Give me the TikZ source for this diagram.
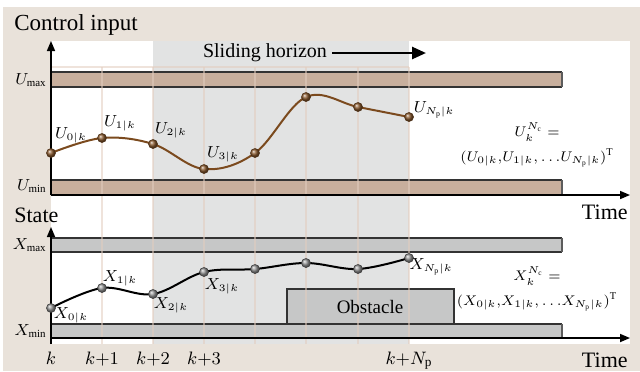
\documentclass[tikz,border=0pt]{standalone}
\usepackage{fontspec}
\setmainfont{Liberation Serif}
\usetikzlibrary{arrows.meta}
\definecolor{bgbeige}{HTML}{E9E2DA}
\definecolor{horgray}{HTML}{E2E3E3}
\definecolor{gridtan}{HTML}{E3CDBE}
\definecolor{tanbar}{HTML}{C8AF9D}
\definecolor{graybar}{HTML}{C6C7C7}
\definecolor{edgedark}{HTML}{333333}
\definecolor{ucurve}{HTML}{7B4A1E}
\definecolor{uball}{HTML}{8A5A2E}
\tikzset{
  gridline/.style={gridtan, line width=0.6pt, opacity=0.55},
  baredge/.style={edgedark, line width=0.9pt},
  axisline/.style={black, line width=0.8pt, -{Triangle[length=5pt,width=4pt]}},
  ubullet/.style={circle, inner sep=0pt, minimum size=4.6pt, ball color=uball, draw=ucurve!60!black, line width=0.2pt},
  xbullet/.style={circle, inner sep=0pt, minimum size=4.6pt, ball color=gray!85, draw=gray!40!black, line width=0.2pt},
  lbl/.style={inner sep=1pt, font=\fontsize{7.8}{9}\selectfont},
  vec/.style={inner sep=0pt, align=center, font=\fontsize{7.4}{12.5}\selectfont},
  ttl/.style={inner sep=0pt, font=\fontsize{11}{12}\selectfont},
  tick/.style={inner sep=0pt, font=\fontsize{9.5}{10}\selectfont}
}
\begin{document}
\begin{tikzpicture}[x=0.5pt,y=-0.5pt]
\useasboundingbox (0,0) rectangle (640,371);
\fill[white] (0,0) rectangle (640,371);
\fill[bgbeige] (3,7) rectangle (640,371);
\fill[white] (51,41) rectangle (630,344);
\fill[horgray] (153,41) rectangle (409,344);

% bars
\fill[tanbar] (51,72) rectangle (562,87);
\fill[tanbar] (51,180) rectangle (562,195);
\fill[graybar] (51,238) rectangle (562,252);
\fill[graybar] (51,324) rectangle (562,338);
\fill[graybar] (287,289) rectangle (454,324);

% bar edges
\foreach \a/\b in {72/87,180/195,238/252,324/338}{
  \draw[baredge] (51,\a) -- (562,\a);
  \draw[baredge] (51,\b) -- (562,\b);
  \draw[edgedark!80, line width=0.6pt] (562,\a) -- (562,\b);
}
\draw[edgedark, line width=0.6pt] (287,324) -- (287,289) -- (454,289) -- (454,324);

% grid
\draw[gridline] (51,67) -- (409,67);
\foreach \x in {102,153,204,255,306,358,409}
  \draw[gridline] (\x,67) -- (\x,344);

% axes
\coordinate (o1) at (51,195);
\coordinate (t1) at (51,41);
\coordinate (r1) at (630,195);
\coordinate (o2) at (51,344);
\coordinate (t2) at (51,227);
\coordinate (r2) at (630,338);
\draw[axisline] (o1) -- (t1);
\draw[axisline] (51,195) -- (r1);
\draw[axisline] (o2) -- (t2);
\draw[axisline] (51,338) -- (r2);

% titles
\node[ttl, anchor=base west, font=\fontsize{11.5}{12}\selectfont] (ci) at (14,30) {Control input};
\node[ttl, anchor=base west] (st) at (14,222) {State};
\node[ttl, anchor=base east] (time1) at (628,219) {Time};
\node[ttl, anchor=base east] (time2) at (628,367) {Time};
\node[ttl, anchor=base, font=\fontsize{10}{11}\selectfont] (sh) at (265,57) {Sliding horizon};
\coordinate (sha) at (332,53);
\coordinate (shb) at (426,53);
\draw[line width=1.3pt, -{Triangle[length=7pt,width=6pt]}] (sha) -- (shb);

% axis labels
\node[lbl, anchor=east] (umax) at (49,80) {$U_{\mathrm{max}}$};
\node[lbl, anchor=east] (umin) at (49,186) {$U_{\mathrm{min}}$};
\node[lbl, anchor=east] (xmax) at (49,245) {$X_{\mathrm{max}}$};
\node[lbl, anchor=east] (xmin) at (49,331) {$X_{\mathrm{min}}$};

% time ticks
\node[tick, anchor=base] (k0) at (51,364) {$k$};
\node[tick, anchor=base] (k1) at (102,364) {$k{+}1$};
\node[tick, anchor=base] (k2) at (153,364) {$k{+}2$};
\node[tick, anchor=base] (k3) at (204,364) {$k{+}3$};
\node[tick, anchor=base] (kn) at (409,364) {$k{+}N_{\mathrm{p}}$};

% control curve
\draw[ucurve, line width=1pt] plot[smooth, tension=0.6] coordinates
 {(51,153) (102,138) (153,144) (204,169) (255,153) (306,97) (358,107) (409,117)};
\foreach \n/\x/\y in {0/51/153,1/102/138,2/153/144,3/204/169,4/255/153,5/306/97,6/358/107,7/409/117}
  \node[ubullet] (u\n) at (\x,\y) {};

% state curve
\draw[black, line width=1pt] plot[smooth, tension=0.6] coordinates
 {(51,308) (102,288) (153,294) (204,272) (255,269) (306,263) (358,269) (409,258)};
\foreach \n/\x/\y in {0/51/308,1/102/288,2/153/294,3/204/272,4/255/269,5/306/263,6/358/269,7/409/258}
  \node[xbullet] (x\n) at (\x,\y) {};

% U labels
\node[lbl] (lu0) at (71,135) {$U_{0|k}$};
\node[lbl] (lu1) at (120,123) {$U_{1|k}$};
\node[lbl] (lu2) at (171,130) {$U_{2|k}$};
\node[lbl] (lu3) at (223,154) {$U_{3|k}$};
\node[lbl] (lun) at (434,110) {$U_{N_{\mathrm{p}}|k}$};
\node[vec] (uvec) at (537,145) {$U_k^{N_{\mathrm{c}}} =$\\$(U_{0|k}{,}U_{1|k}{,}\,{\ldots}U_{N_{\mathrm{p}}|k})^{\mathrm{T}}$};

% X labels
\node[lbl] (lx0) at (71,315) {$X_{0|k}$};
\node[lbl] (lx1) at (120,278) {$X_{1|k}$};
\node[lbl] (lx2) at (171,305) {$X_{2|k}$};
\node[lbl] (lx3) at (222,286) {$X_{3|k}$};
\node[lbl] (lxn) at (431,267) {$X_{N_{\mathrm{p}}|k}$};
\node[vec] (xvec) at (537,289) {$X_k^{N_{\mathrm{c}}} =$\\$(X_{0|k}{,}X_{1|k}{,}\,{\ldots}X_{N_{\mathrm{p}}|k})^{\mathrm{T}}$};

\node[ttl, font=\fontsize{9.5}{10}\selectfont] (obs) at (370,307) {Obstacle};
\end{tikzpicture}
\end{document}
